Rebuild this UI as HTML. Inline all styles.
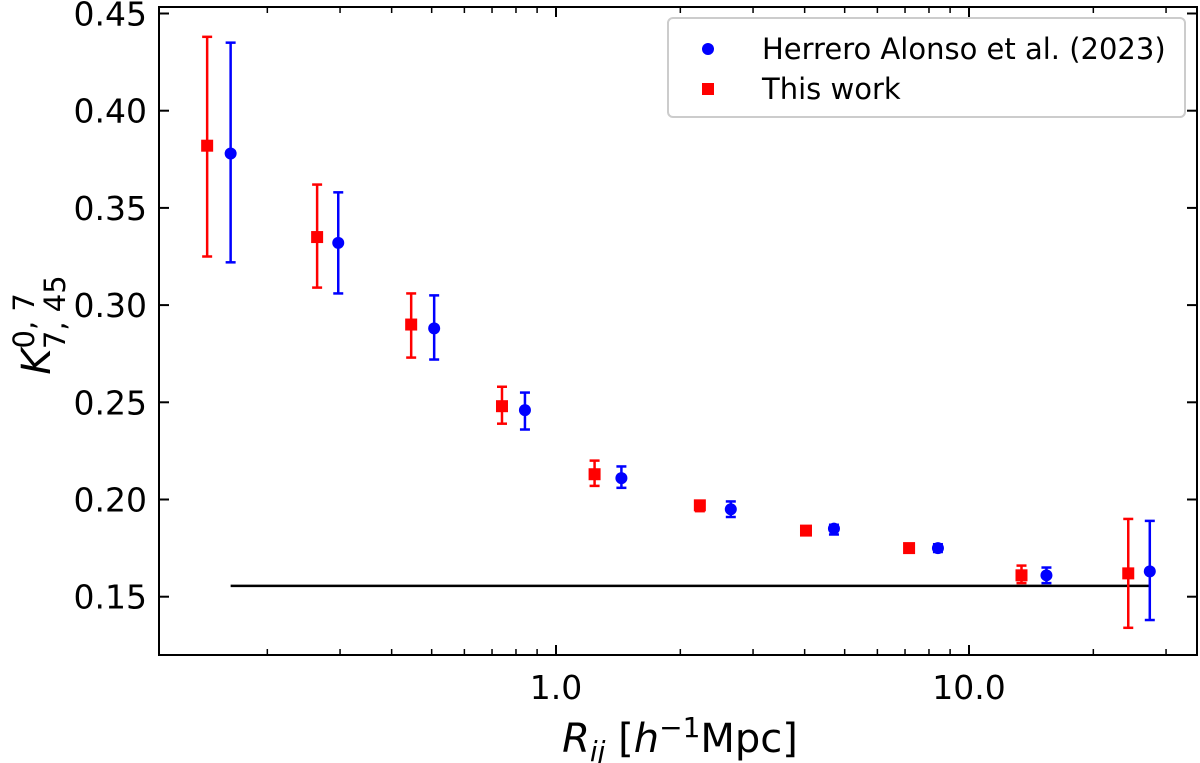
<!DOCTYPE html>
<html><head><meta charset="utf-8"><style>
html,body{margin:0;padding:0;background:#fff;}
svg{display:block;font-family:"DejaVu Sans","Liberation Sans",sans-serif;}
</style></head><body>
<svg id="chart" width="1200" height="763" viewBox="0 0 1200 763">
<g id="marks"></g>
<g id="axes"></g>
</svg>
<script>
const xRed=[0.143,0.264,0.446,0.740,1.24,2.23,4.03,7.16,13.4,24.3];
const yRed=[0.382,0.335,0.290,0.248,0.213,0.197,0.184,0.175,0.161,0.162];
const loRed=[0.325,0.309,0.273,0.239,0.207,0.194,0.183,0.174,0.157,0.134];
const hiRed=[0.438,0.362,0.306,0.258,0.220,0.199,0.186,0.177,0.166,0.190];
const xBlue=[0.163,0.297,0.507,0.841,1.44,2.65,4.71,8.41,15.4,27.4];
const yBlue=[0.378,0.332,0.288,0.246,0.211,0.195,0.185,0.175,0.161,0.163];
const loBlue=[0.322,0.306,0.272,0.236,0.206,0.191,0.182,0.173,0.157,0.138];
const hiBlue=[0.435,0.358,0.305,0.255,0.217,0.199,0.187,0.177,0.165,0.189];
const yTicks=[0.15,0.20,0.25,0.30,0.35,0.40,0.45];
const yTickLabels=["0.15","0.20","0.25","0.30","0.35","0.40","0.45"];
const xMajor=[1,10];
const xMajorLabels=["1.0","10.0"];
const xMinor=[0.2,0.3,0.4,0.5,0.6,0.7,0.8,0.9,2,3,4,5,6,7,8,9,20,30];
const hLineY=0.1556, hLineX=[0.163,27.4];

const L=159,R=1197,T=7,B=655;
const X=v=>556+413*Math.log10(v);
const Y=v=>13.5+(0.45-v)/0.05*97.2;
const NS="http://www.w3.org/2000/svg";
const marks=document.getElementById('marks'), axes=document.getElementById('axes');
function mk(tag,attrs,parent){const e=document.createElementNS(NS,tag);for(const k in attrs)e.setAttribute(k,attrs[k]);parent.appendChild(e);return e;}

let hl=mk('line',{x1:X(hLineX[0]),x2:X(hLineX[1]),y1:Y(hLineY),y2:Y(hLineY),stroke:'#000','stroke-width':2.5},marks);



function series(xs,ys,lo,hi,col,shape,name){
  const g=mk('g',{},marks);
  
  
  xs.forEach((xv,i)=>{
    const x=X(xv);
    const eb=mk('g',{stroke:col,'stroke-width':2.5},g);
    
    
    mk('line',{x1:x,x2:x,y1:Y(lo[i]),y2:Y(hi[i])},eb);
    mk('line',{x1:x-5,x2:x+5,y1:Y(lo[i]),y2:Y(lo[i])},eb);
    mk('line',{x1:x-5,x2:x+5,y1:Y(hi[i]),y2:Y(hi[i])},eb);
    let m;
    if(shape==='sq') m=mk('rect',{x:x-6,y:Y(ys[i])-6,width:12,height:12,fill:col},g);
    else m=mk('circle',{cx:x,cy:Y(ys[i]),r:6,fill:col},g);
    
    
  });
}
series(xRed,yRed,loRed,hiRed,'#ff0000','sq','this-work');
series(xBlue,yBlue,loBlue,hiBlue,'#0000ff','c','herrero-alonso');

let fr=mk('rect',{x:L,y:T,width:R-L,height:B-T,fill:'none',stroke:'#000','stroke-width':2},axes);



yTicks.forEach((v,i)=>{
  const y=Y(v);
  mk('line',{x1:L,x2:L+10,y1:y,y2:y,stroke:'#000','stroke-width':2},axes);
  mk('line',{x1:R-10,x2:R,y1:y,y2:y,stroke:'#000','stroke-width':2},axes);
  const t=mk('text',{x:L-12,y:y+12,'text-anchor':'end','font-size':33,fill:'#000'},axes);
  t.textContent=yTickLabels[i];
  
  
});
xMajor.forEach((v,i)=>{
  const x=X(v);
  mk('line',{x1:x,x2:x,y1:B,y2:B-10,stroke:'#000','stroke-width':2},axes);
  mk('line',{x1:x,x2:x,y1:T,y2:T+10,stroke:'#000','stroke-width':2},axes);
  const t=mk('text',{x:x,y:B+44,'text-anchor':'middle','font-size':33,fill:'#000'},axes);
  t.textContent=xMajorLabels[i];
  
  
});
xMinor.forEach(v=>{
  const x=X(v);
  mk('line',{x1:x,x2:x,y1:B,y2:B-6,stroke:'#000','stroke-width':1.5},axes);
  mk('line',{x1:x,x2:x,y1:T,y2:T+6,stroke:'#000','stroke-width':1.5},axes);
});
</script>
<svg style="position:absolute;left:0;top:0" width="1200" height="763">
<text x="680" y="752" text-anchor="middle" font-size="40" font-family="DejaVu Sans,sans-serif"><tspan font-style="italic">R</tspan><tspan font-style="italic" font-size="28" dy="9">ij</tspan><tspan dy="-9"> [</tspan><tspan font-style="italic">h</tspan><tspan font-size="28" dy="-15">−1</tspan><tspan dy="15">Mpc]</tspan></text>
<g transform="translate(50,325) rotate(-90)">
<text x="0" y="0" text-anchor="middle" font-size="40" font-family="DejaVu Sans,sans-serif"><tspan font-style="italic">K</tspan><tspan font-size="29" dy="-16">0, 7</tspan><tspan font-size="29" dx="-56" dy="31">7, 45</tspan></text>
</g>
<g>
<rect x="668" y="18" width="517" height="99" rx="5" fill="#fff" stroke="#ccc" stroke-width="2"/>
<circle cx="708" cy="49" r="6" fill="#0000ff"/>
<text x="762" y="59" font-size="29" font-family="DejaVu Sans,sans-serif">Herrero Alonso et al. (2023)</text>
<rect x="702" y="83" width="12" height="12" fill="#ff0000"/>
<text x="762" y="99" font-size="29" font-family="DejaVu Sans,sans-serif">This work</text>
</g>
</svg>
</body></html>
